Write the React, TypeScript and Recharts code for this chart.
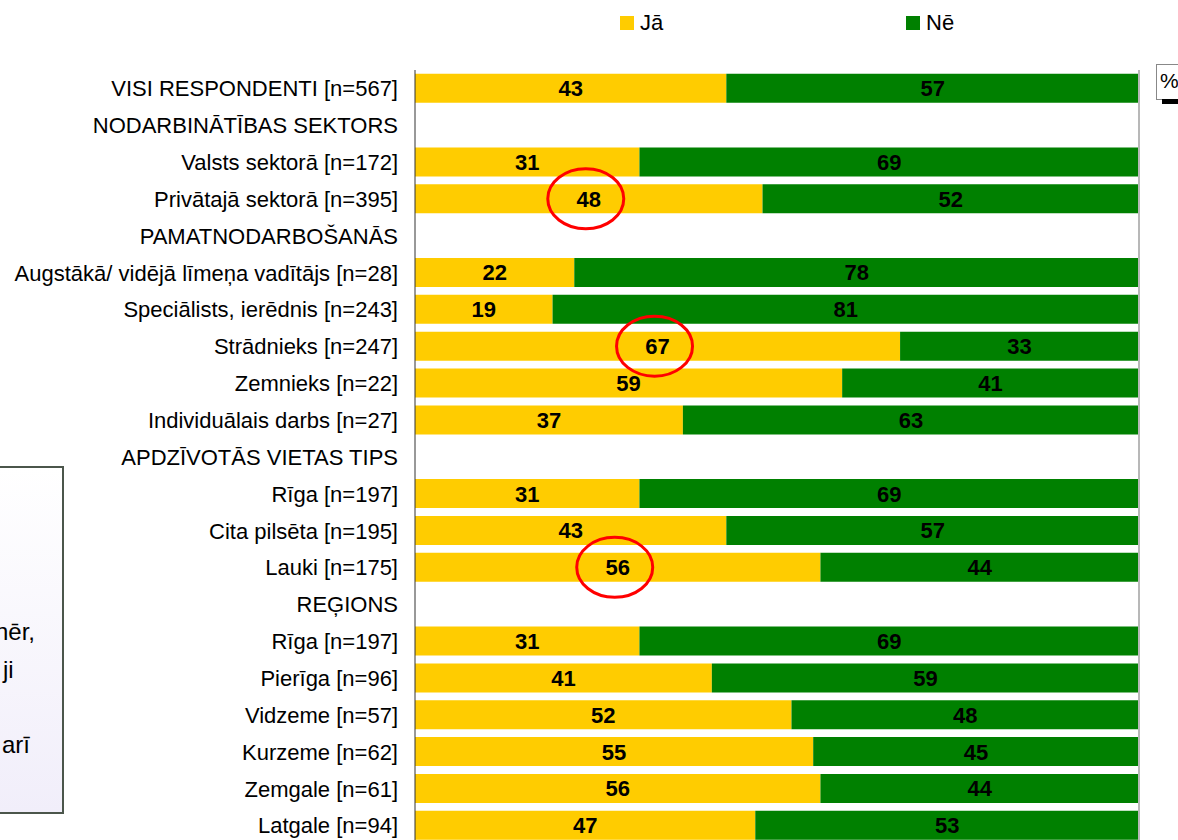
import { BarChart, Bar, XAxis, YAxis, LabelList, ReferenceLine } from 'recharts';

const categories = [
  'VISI RESPONDENTI [n=567]',
  'NODARBINĀTĪBAS SEKTORS',
  'Valsts sektorā [n=172]',
  'Privātajā sektorā [n=395]',
  'PAMATNODARBOŠANĀS',
  'Augstākā/ vidējā līmeņa vadītājs [n=28]',
  'Speciālists, ierēdnis [n=243]',
  'Strādnieks [n=247]',
  'Zemnieks [n=22]',
  'Individuālais darbs [n=27]',
  'APDZĪVOTĀS VIETAS TIPS',
  'Rīga [n=197]',
  'Cita pilsēta [n=195]',
  'Lauki [n=175]',
  'REĢIONS',
  'Rīga [n=197]',
  'Pierīga [n=96]',
  'Vidzeme [n=57]',
  'Kurzeme [n=62]',
  'Zemgale [n=61]',
  'Latgale [n=94]',
];

// null = section header row (no bar)
const jaValues = [43, null, 31, 48, null, 22, 19, 67, 59, 37, null, 31, 43, 56, null, 31, 41, 52, 55, 56, 47];
const neValues = [57, null, 69, 52, null, 78, 81, 33, 41, 63, null, 69, 57, 44, null, 69, 59, 48, 45, 44, 53];

const series = [
  { key: 'ja', name: 'Jā', color: '#FFCC00' },
  { key: 'ne', name: 'Nē', color: '#008000' },
];

// rows circled in red on the original slide
const highlighted = ['Privātajā sektorā [n=395]', 'Strādnieks [n=247]', 'Lauki [n=175]'];

const data = categories.map((name, i) => ({
  id: `r${i}`,
  name,
  ja: jaValues[i],
  ne: neValues[i],
}));

const FONT = '"Liberation Sans", Arial, sans-serif';

function ValueLabel(props: any) {
  const { x, y, width, height, value } = props;
  if (value === null || value === undefined) return null;
  const cx = Number(x) + Number(width) / 2;
  const cy = Number(y) + Number(height) / 2;
  return (
    <g>
      <text
        x={cx}
        y={cy}
        dy="0.36em"
        textAnchor="middle"
        fontFamily={FONT}
        fontSize={22}
        fontWeight="bold"
        fill="#000"
      >
        {value.v}
      </text>
      {value.ring && (
        <ellipse cx={cx - 3} cy={cy} rx={38} ry={30} fill="none" stroke="#ff0000" strokeWidth={3} />
      )}
    </g>
  );
}

export default function App() {
  return (
    <div
      style={{
        position: 'fixed',
        left: 0,
        top: 0,
        width: 1178,
        height: 840,
        overflow: 'hidden',
        background: '#fff',
        fontFamily: FONT,
      }}
    >
      {/* legend */}
      {series.map((s, i) => (
        <div
          key={s.key}
          style={{
            position: 'absolute',
            top: 10,
            left: i === 0 ? 620 : 906,
            display: 'flex',
            alignItems: 'center',
            fontSize: 22,
            color: '#000',
          }}
        >
          <span style={{ display: 'inline-block', width: 14, height: 14, background: s.color, marginRight: 6 }} />
          {s.name}
        </div>
      ))}

      <BarChart
        width={1178}
        height={844}
        data={data}
        layout="vertical"
        margin={{ top: 70, right: 39, left: 0, bottom: 0 }}
        barCategoryGap="10%"
      >
        <XAxis
          type="number"
          orientation="top"
          domain={[0, 100]}
          height={0}
          tick={false}
          tickLine={false}
          axisLine={{ stroke: '#b8b8b8', strokeWidth: 2 }}
        />
        <YAxis
          type="category"
          dataKey="id"
          width={415}
          tickLine={false}
          tickSize={0}
          tickMargin={17}
          interval={0}
          axisLine={{ stroke: '#333' }}
          tickFormatter={(v: string) => data.find((d) => d.id === v)?.name ?? ''}
          tick={{ fill: '#000', fontSize: 22, fontFamily: FONT }}
        />
        <ReferenceLine x={100} stroke="#b8b8b8" strokeWidth={2} />
        {series.map((s) => (
          <Bar key={s.key} dataKey={s.key} name={s.name} stackId="a" fill={s.color} isAnimationActive={false}>
            <LabelList
              dataKey={(d: any) =>
                d[s.key] == null
                  ? null
                  : { v: d[s.key], ring: s.key === 'ja' && highlighted.includes(d.name) }
              }
              content={(p: any) => <ValueLabel {...p} />}
            />
          </Bar>
        ))}
      </BarChart>

      {/* clipped text box on the left edge of the slide */}
      <div
        style={{
          position: 'absolute',
          left: -2,
          top: 466,
          width: 62,
          height: 344,
          border: '2px solid #4b564b',
          background: 'linear-gradient(#ffffff, #f1eefa)',
          overflow: 'hidden',
          fontSize: 24,
          color: '#000',
        }}
      >
        <span style={{ position: 'absolute', right: 27, top: 150, whiteSpace: 'nowrap' }}>nēr,</span>
        <span style={{ position: 'absolute', left: 3, top: 188 }}>ji</span>
        <span style={{ position: 'absolute', left: 2, top: 263 }}>arī</span>
      </div>

      {/* clipped "%" box at the top right */}
      <div
        style={{
          position: 'absolute',
          left: 1156,
          top: 64,
          width: 30,
          height: 34,
          border: '1px solid #888',
          background: '#fff',
          fontSize: 21,
          lineHeight: '32px',
          paddingLeft: 3,
        }}
      >
        %
      </div>
      <div style={{ position: 'absolute', left: 1162, top: 99, width: 20, height: 5, background: '#000' }} />
    </div>
  );
}
